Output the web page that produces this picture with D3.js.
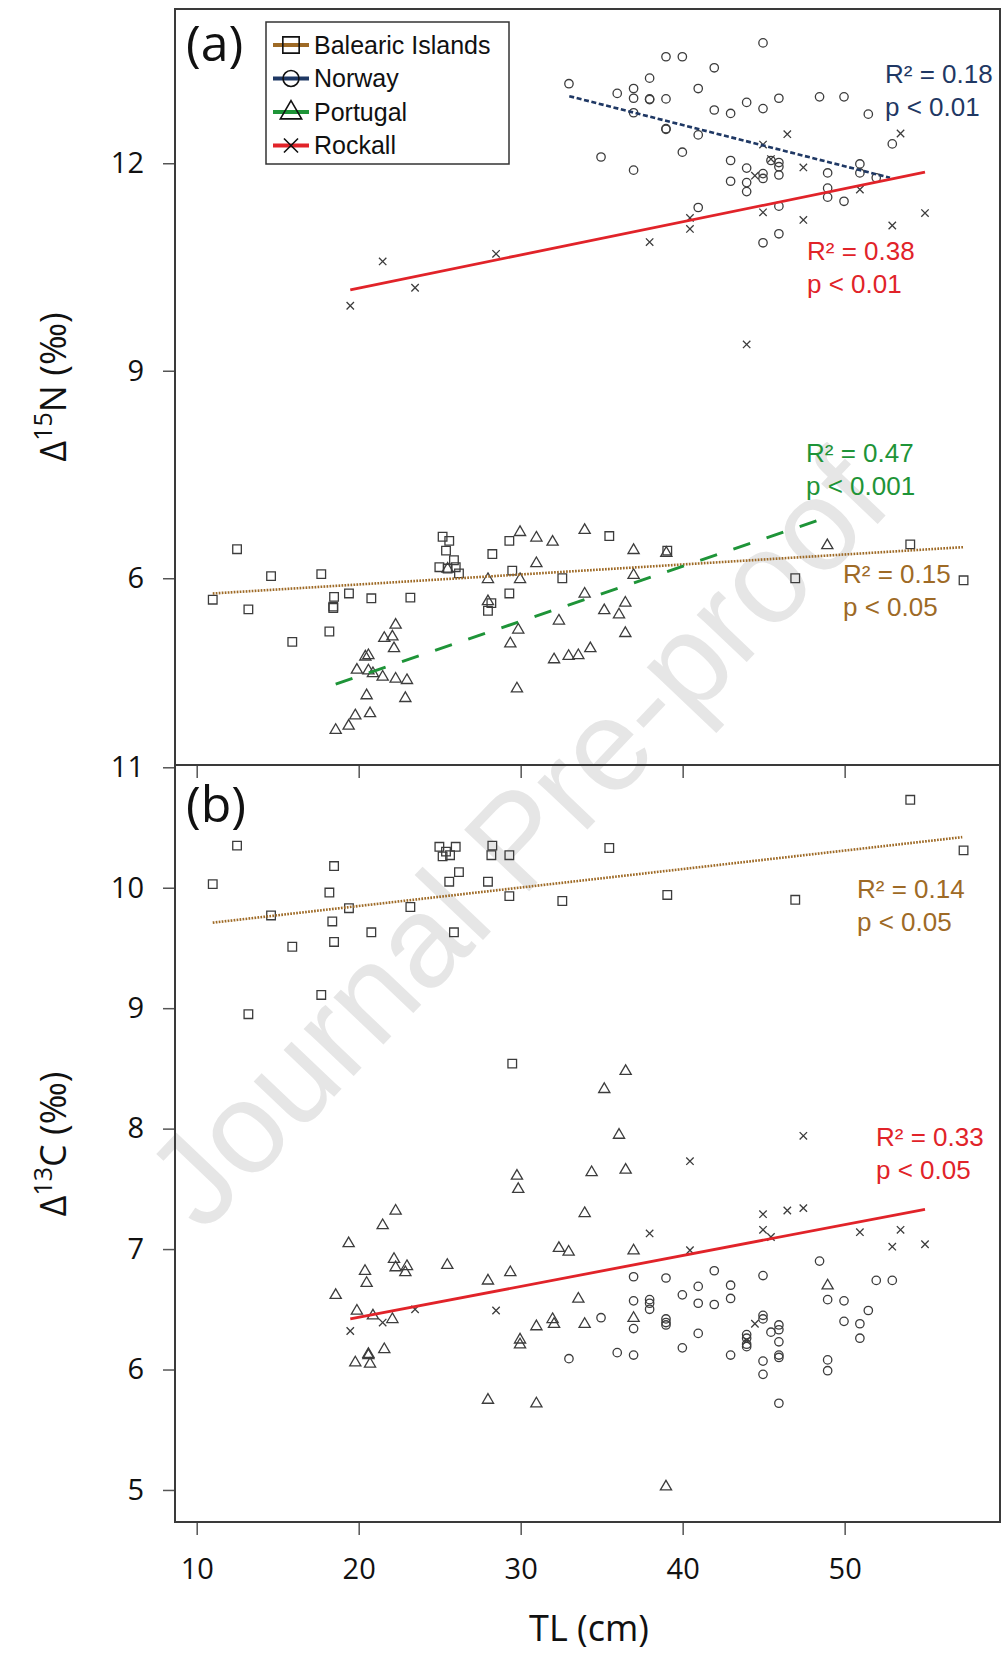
<!DOCTYPE html>
<html>
<head>
<meta charset="utf-8">
<script src="https://cdn.jsdelivr.net/npm/d3@7"></script>
<style>
  body { margin: 0; background: #fff; }
</style>
</head>
<body>
<div id="chart"></div>
<script>
// ---- data: [TL (cm), value] ----
var sites = ["Balearic Islands", "Norway", "Portugal", "Rockall"];

var balearicN15 = [[10.99,5.69],[12.49,6.42],[13.19,5.55],[14.59,6.03],[15.90,5.08],[17.69,6.06],[18.19,5.23],[18.48,5.73],[18.43,5.59],[18.43,5.57],[19.40,5.78],[20.78,5.71],[23.19,5.72],[25.18,6.60],[25.59,6.54],[25.39,6.40],[25.88,6.26],[24.98,6.16],[25.49,6.14],[25.99,6.16],[26.19,6.07],[28.25,6.35],[28.19,5.64],[27.98,5.53],[29.30,6.54],[29.48,6.11],[29.30,5.78],[32.57,6.00],[35.47,6.61],[39.05,6.40],[46.95,6.00],[54.05,6.49],[57.34,5.97]];
var norwayN15 = [[32.98,13.15],[44.96,13.74],[38.97,13.54],[39.98,13.54],[41.95,13.38],[37.96,13.23],[35.96,13.01],[36.97,13.08],[36.97,12.94],[37.96,12.92],[37.96,12.93],[38.97,12.93],[40.96,13.08],[36.97,12.73],[41.95,12.77],[42.96,12.72],[43.95,12.88],[44.96,12.79],[45.94,12.94],[48.45,12.96],[49.96,12.96],[51.46,12.71],[38.97,12.49],[38.97,12.50],[40.96,12.41],[34.96,12.09],[36.97,11.90],[39.98,12.16],[42.96,12.04],[43.95,11.93],[44.96,11.85],[44.96,11.78],[45.94,12.01],[45.94,11.95],[45.94,11.83],[45.45,12.04],[42.96,11.74],[43.95,11.72],[43.95,11.59],[48.95,11.86],[48.95,11.64],[48.95,11.51],[49.96,11.45],[50.94,11.99],[50.94,11.86],[51.95,11.79],[52.94,12.28],[40.96,11.36],[45.94,11.38],[45.94,10.98],[44.96,10.85]];
var portugalN15 = [[29.96,6.67],[30.97,6.59],[31.97,6.53],[30.97,6.22],[33.95,6.70],[27.98,5.99],[29.96,5.99],[25.49,6.14],[27.98,5.67],[33.95,5.78],[22.28,5.33],[21.58,5.14],[22.08,5.16],[22.18,4.99],[20.41,4.87],[20.60,4.89],[19.89,4.68],[20.60,4.67],[20.88,4.63],[21.48,4.58],[22.28,4.55],[22.98,4.53],[22.88,4.27],[20.49,4.31],[19.79,4.02],[20.70,4.05],[19.38,3.87],[18.58,3.81],[29.85,5.26],[29.36,5.06],[29.77,4.41],[32.36,5.39],[32.06,4.83],[32.96,4.88],[33.56,4.89],[34.30,4.99],[36.97,6.41],[38.99,6.37],[36.97,6.05],[36.46,5.65],[35.16,5.54],[36.07,5.48],[36.46,5.21],[48.93,6.48]];
var rockallN15 = [[19.48,9.94],[21.48,10.58],[23.48,10.20],[28.48,10.69],[46.46,12.42],[53.45,12.43],[44.96,12.27],[45.45,12.06],[47.45,11.94],[44.46,11.82],[40.45,11.21],[40.45,11.05],[37.96,10.86],[44.96,11.29],[47.45,11.18],[50.94,11.62],[52.94,11.10],[54.96,11.28],[43.95,9.38]];

var balearicC13 = [[12.49,10.35],[10.99,10.03],[14.59,9.77],[13.19,8.95],[15.90,9.51],[17.69,9.11],[18.19,9.96],[18.48,10.18],[18.37,9.72],[18.48,9.55],[19.40,9.83],[20.78,9.63],[23.19,9.84],[24.98,10.34],[25.39,10.30],[25.18,10.26],[25.64,10.27],[25.99,10.34],[26.19,10.13],[25.59,10.05],[25.88,9.63],[28.25,10.35],[28.19,10.27],[27.98,10.05],[29.30,10.27],[29.30,9.93],[32.57,9.89],[29.48,8.54],[35.47,10.33],[39.05,9.94],[46.95,9.90],[54.05,10.73],[57.34,10.31]];
var norwayC13 = [[48.45,6.90],[44.96,6.78],[41.95,6.82],[36.97,6.77],[38.97,6.76],[40.96,6.69],[42.96,6.70],[42.96,6.59],[39.98,6.62],[40.96,6.55],[41.95,6.54],[36.97,6.57],[37.96,6.58],[37.96,6.55],[37.96,6.50],[34.96,6.43],[36.97,6.34],[38.97,6.42],[38.97,6.39],[38.97,6.37],[40.96,6.30],[39.98,6.18],[35.96,6.14],[36.97,6.12],[42.96,6.12],[44.96,6.45],[44.96,6.42],[45.45,6.31],[43.95,6.29],[43.95,6.26],[43.95,6.21],[43.95,6.19],[45.94,6.37],[45.94,6.33],[45.94,6.23],[45.94,6.12],[45.94,6.10],[44.96,6.07],[44.96,5.96],[45.94,5.72],[48.95,6.58],[49.96,6.57],[49.96,6.40],[50.94,6.38],[50.94,6.26],[51.46,6.49],[51.95,6.74],[52.94,6.74],[48.95,6.08],[48.95,5.99],[32.98,6.09]];
var portugalC13 = [[29.77,7.61],[29.85,7.50],[22.28,7.32],[21.48,7.20],[19.38,7.05],[22.18,6.92],[22.28,6.85],[22.98,6.86],[22.88,6.81],[20.39,6.82],[20.49,6.72],[25.47,6.87],[27.98,6.74],[29.36,6.81],[18.58,6.62],[19.89,6.49],[20.88,6.45],[22.08,6.42],[32.36,7.01],[32.96,6.98],[33.95,7.30],[33.56,6.59],[33.95,6.38],[30.97,6.36],[31.97,6.42],[32.06,6.38],[29.96,6.25],[29.96,6.21],[21.58,6.17],[20.60,6.13],[20.60,6.12],[19.79,6.06],[20.70,6.05],[27.98,5.75],[30.97,5.72],[36.07,7.95],[36.48,7.66],[34.38,7.64],[36.97,6.99],[36.97,6.43],[48.95,6.70],[38.97,5.03],[36.48,8.48],[35.16,8.33]];
var rockallC13 = [[47.45,7.94],[40.45,7.73],[44.96,7.29],[46.46,7.32],[47.45,7.34],[37.96,7.13],[44.96,7.16],[45.45,7.10],[40.45,6.99],[50.94,7.14],[53.45,7.16],[52.94,7.02],[54.96,7.04],[44.46,6.38],[19.48,6.32],[21.48,6.39],[23.48,6.50],[28.48,6.49],[43.95,6.24]];

// fitted regression lines: [site index, TL start, value start, TL end, value end]
var fitsN15 = [[0,10.99,5.78,57.36,6.45],[1,33.0,12.97,52.8,11.79],[2,18.58,4.47,48.39,6.84],[3,19.48,10.17,54.96,11.87]];
var fitsC13 = [[0,10.99,9.71,57.26,10.42],[3,19.48,6.42,54.96,7.33]];

// regression statistics: [site index, R2 text, p text]
var statsN15 = [[1,"R² = 0.18","p < 0.01"],[3,"R² = 0.38","p < 0.01"],[2,"R² = 0.47","p < 0.001"],[0,"R² = 0.15","p < 0.05"]];
var statsC13 = [[0,"R² = 0.14","p < 0.05"],[3,"R² = 0.33","p < 0.05"]];

var xTicks = [10, 20, 30, 40, 50];
var yTicksN15 = [6, 9, 12];
var yTicksC13 = [5, 6, 7, 8, 9, 10, 11];

// ---- styles ----
var siteColors = ["#9e6a26", "#1f3864", "#1e9438", "#e12329"];
var siteShapes = ["square", "circle", "triangle", "cross"];
var siteDash = ["1.7,1.3", "5,2.6", "17.7,17.3", null];
var siteWidth = [2.6, 2.6, 3, 2.8];
var labelPosN15 = [[885, 83], [807, 260], [806, 462], [843, 583]];
var labelPosC13 = [[857, 898], [876, 1146]];

var W = 1002, H = 1654;
var sans = "'Open Sans', 'Noto Sans', sans-serif";
var arial = "'Liberation Sans', Arial, sans-serif";

var svg = d3.select("#chart").append("svg")
    .attr("width", W)
    .attr("height", H);

var x = d3.scaleLinear().domain([8.66, 59.59]).range([175, 1000]);
var yN = d3.scaleLinear().domain([3.30, 14.23]).range([765, 9]);
var yC = d3.scaleLinear().domain([4.734, 11.019]).range([1522, 765]);

// marca de agua
svg.append("text")
    .attr("transform", "translate(515,838) rotate(-46.5)")
    .attr("text-anchor", "middle")
    .attr("dy", "0.36em")
    .attr("font-family", arial)
    .attr("font-size", 130)
    .attr("fill", "#e6e6e6")
    .text("Journal Pre-proof");

function markerPath(shape, s) {
    if (shape === "square") { var h = 4.3 * s; return "M" + -h + "," + -h + "H" + h + "V" + h + "H" + -h + "Z"; }
    if (shape === "circle") { var r = 4.2 * s; return "M" + r + ",0A" + r + "," + r + " 0 1,1 " + -r + ",0A" + r + "," + r + " 0 1,1 " + r + ",0Z"; }
    if (shape === "triangle") { var w = 5.6 * s; return "M0," + (-6 * s) + "L" + w + "," + (3.6 * s) + "L" + -w + "," + (3.6 * s) + "Z"; }
    var c = 3.7 * s;
    return "M" + -c + "," + -c + "L" + c + "," + c + "M" + -c + "," + c + "L" + c + "," + -c;
}

function drawPoints(data, site, y) {
    svg.append("g").selectAll("path")
        .data(data)
        .enter()
        .append("path")
        .attr("transform", d => "translate(" + x(d[0]) + "," + y(d[1]) + ")")
        .attr("d", markerPath(siteShapes[site], 1))
        .attr("fill", "none")
        .attr("stroke", "#3c3c3c")
        .attr("stroke-width", 1.3);
}

function drawFits(fits, y) {
    svg.append("g").selectAll("line")
        .data(fits)
        .enter()
        .append("line")
        .attr("x1", d => x(d[1]))
        .attr("y1", d => y(d[2]))
        .attr("x2", d => x(d[3]))
        .attr("y2", d => y(d[4]))
        .attr("stroke", d => siteColors[d[0]])
        .attr("stroke-width", d => siteWidth[d[0]])
        .attr("stroke-dasharray", d => siteDash[d[0]]);
}

function drawStats(stats, pos) {
    stats.forEach(function(s, i) {
        var t = svg.append("text")
            .attr("font-family", arial)
            .attr("font-size", 26)
            .attr("fill", siteColors[s[0]]);
        t.append("tspan").attr("x", pos[i][0]).attr("y", pos[i][1]).text(s[1]);
        t.append("tspan").attr("x", pos[i][0]).attr("y", pos[i][1] + 33).text(s[2]);
    });
}

function styleAxis(g) {
    g.select(".domain").remove();
    g.selectAll(".tick line").attr("stroke", "#555").attr("stroke-width", 1.5);
    g.selectAll(".tick text")
        .attr("font-family", sans)
        .attr("font-size", 29)
        .attr("fill", "#111");
}

// panel (a)
drawPoints(balearicN15, 0, yN);
drawPoints(norwayN15, 1, yN);
drawPoints(portugalN15, 2, yN);
drawPoints(rockallN15, 3, yN);
drawFits(fitsN15, yN);
drawStats(statsN15, labelPosN15);

// panel (b)
drawPoints(balearicC13, 0, yC);
drawPoints(norwayC13, 1, yC);
drawPoints(portugalC13, 2, yC);
drawPoints(rockallC13, 3, yC);
drawFits(fitsC13, yC);
drawStats(statsC13, labelPosC13);

// ejes
var intFmt = d3.format("d");
svg.append("g").attr("transform", "translate(175,0)")
    .call(d3.axisLeft(yN).tickValues(yTicksN15).tickFormat(intFmt).tickSize(12).tickPadding(19))
    .call(styleAxis);
svg.append("g").attr("transform", "translate(175,0)")
    .call(d3.axisLeft(yC).tickValues(yTicksC13).tickFormat(intFmt).tickSize(12).tickPadding(19))
    .call(styleAxis);
svg.append("g").attr("transform", "translate(0,1522)")
    .call(d3.axisBottom(x).tickValues(xTicks).tickFormat(intFmt).tickSize(13).tickPadding(23))
    .call(styleAxis);
svg.append("g").attr("transform", "translate(0,765)")
    .call(d3.axisBottom(x).tickValues(xTicks).tickSize(13).tickFormat(""))
    .call(styleAxis);

// marcos
[[9, 765], [765, 1522]].forEach(function(p) {
    svg.append("rect")
        .attr("x", 175).attr("y", p[0])
        .attr("width", 825).attr("height", p[1] - p[0])
        .attr("fill", "none")
        .attr("stroke", "#3a3a3a")
        .attr("stroke-width", 2);
});

// etiquetas de panel
svg.append("text").attr("x", 186).attr("y", 61).attr("font-family", sans)
    .attr("font-size", 50).attr("fill", "#111").text("(a)");
svg.append("text").attr("x", 186).attr("y", 822).attr("font-family", sans)
    .attr("font-size", 50).attr("fill", "#111").text("(b)");

// títulos de ejes
function yTitle(cy, iso, el) {
    var t = svg.append("text")
        .attr("transform", "translate(66," + cy + ") rotate(-90)")
        .attr("text-anchor", "middle")
        .attr("font-family", sans)
        .attr("font-size", 36)
        .attr("fill", "#111");
    t.append("tspan").text("Δ");
    t.append("tspan").attr("font-size", 25).attr("dy", -14).text(iso);
    t.append("tspan").attr("dy", 14).text(el + " (‰)");
}
yTitle(387, "15", "N");
yTitle(1144, "13", "C");

svg.append("text")
    .attr("x", 589).attr("y", 1641)
    .attr("text-anchor", "middle")
    .attr("font-family", sans)
    .attr("font-size", 36)
    .attr("fill", "#111")
    .text("TL (cm)");

// leyenda
var legend = svg.append("g");
legend.append("rect")
    .attr("x", 266).attr("y", 22)
    .attr("width", 243).attr("height", 142)
    .attr("fill", "#fff")
    .attr("stroke", "#333")
    .attr("stroke-width", 1.5);
sites.forEach(function(name, i) {
    var ly = 45 + i * 33.5;
    legend.append("line")
        .attr("x1", 273).attr("x2", 309)
        .attr("y1", ly).attr("y2", ly)
        .attr("stroke", siteColors[i])
        .attr("stroke-width", 4);
    legend.append("path")
        .attr("transform", "translate(291," + ly + ")")
        .attr("d", markerPath(siteShapes[i], 1.9))
        .attr("fill", "none")
        .attr("stroke", "#111")
        .attr("stroke-width", 1.6);
    legend.append("text")
        .attr("x", 314).attr("y", ly + 8.5)
        .attr("font-family", arial)
        .attr("font-size", 25)
        .attr("fill", "#111")
        .text(name);
});
</script>
</body>
</html>
